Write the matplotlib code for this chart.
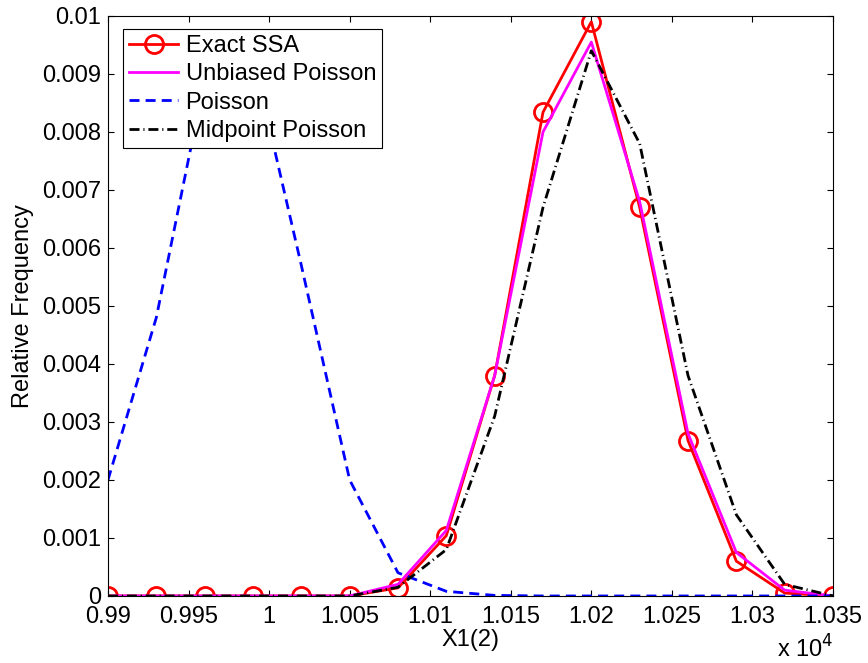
import matplotlib
matplotlib.use('Agg')
import matplotlib.pyplot as plt
from matplotlib.ticker import FuncFormatter

plt.rcParams['font.family'] = ['Liberation Sans', 'DejaVu Sans']
plt.rcParams['font.size'] = 17

# bin centres of X1(2)
x_vals = [9900, 9930, 9960, 9990, 10020, 10050, 10080, 10110,
          10140, 10170, 10200, 10230, 10260, 10290, 10320, 10350]

exact_ssa = [0, 0, 0, 0, 0, 0, 0.00014, 0.00104,
             0.0038, 0.00834, 0.0099, 0.0067, 0.00268, 0.0006, 0.00005, 0]
unbiased_poisson = [0, 0, 0, 0, 0, 0, 0.0002, 0.00113,
                    0.0038, 0.008, 0.00955, 0.0068, 0.0028, 0.00075, 0.0001, 0]
poisson = [0.002, 0.0048, 0.0089, 0.0093, 0.0057, 0.002, 0.0004, 0.00008,
           0.00001, 0, 0, 0, 0, 0, 0, 0]
midpoint_poisson = [0, 0, 0, 0, 0, 0, 0.00015, 0.0008,
                    0.0031, 0.0067, 0.0094, 0.0078, 0.0038, 0.0014, 0.0002, 0]

x_ticks = [9900, 9950, 10000, 10050, 10100, 10150, 10200, 10250, 10300, 10350]
y_ticks = [0, 0.001, 0.002, 0.003, 0.004, 0.005, 0.006, 0.007, 0.008, 0.009, 0.01]

fig = plt.figure(figsize=(8.68, 6.63), dpi=100)
ax = fig.add_axes([0.1244, 0.1011, 0.8353, 0.8748])

ax.plot(x_vals, exact_ssa, color='#ff0000', lw=2, marker='o', ms=13,
        mfc='none', mew=2, label='Exact SSA')
ax.plot(x_vals, unbiased_poisson, color='#ff00ff', lw=2, label='Unbiased Poisson')
ax.plot(x_vals, poisson, color='#0000ff', lw=2, dashes=(3.6, 2.2), label='Poisson')
ax.plot(x_vals, midpoint_poisson, color='k', lw=2, dashes=(3.6, 1.4, 0.4, 1.4),
        label='Midpoint Poisson')

ax.set_xlim(9900, 10350)
ax.set_ylim(0, 0.01)
ax.set_xticks(x_ticks)
ax.set_yticks(y_ticks)
ax.xaxis.set_major_formatter(FuncFormatter(lambda v, p: f'{v / 1e4:g}'))
ax.yaxis.set_major_formatter(FuncFormatter(lambda v, p: f'{v:g}'))
ax.tick_params(direction='in', top=True, right=True, length=4.5, width=0.8, pad=5)
ax.tick_params(axis='x', pad=7)
for s in ax.spines.values():
    s.set_linewidth(0.8)

ax.set_xlabel('X1(2)', labelpad=1)
ax.set_ylabel('Relative Frequency', labelpad=6)
ax.text(1.0, -0.107, r'x 10$^4$', transform=ax.transAxes, ha='right', va='baseline')

leg = ax.legend(loc='upper left', bbox_to_anchor=(0.0207, 0.9776), borderaxespad=0,
                fancybox=False, framealpha=1, edgecolor='k', handlelength=2.1,
                handletextpad=0.3, labelspacing=0.27, borderpad=0.25)
leg.get_frame().set_linewidth(0.8)

fig.savefig('out.png', dpi=100)
